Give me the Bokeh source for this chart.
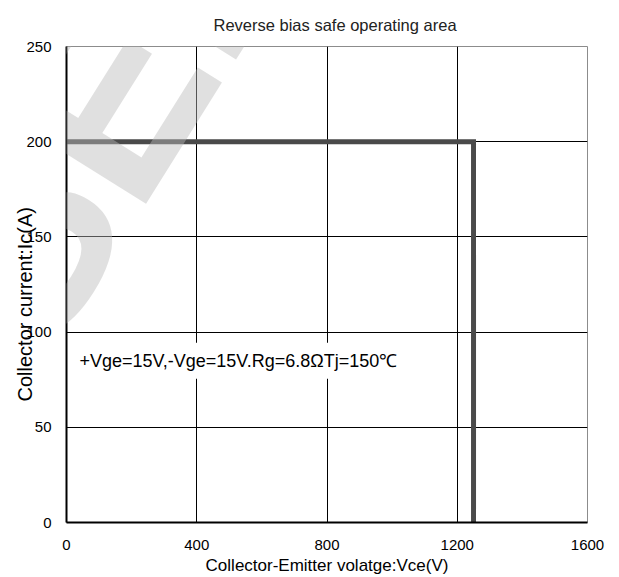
from bokeh.plotting import figure
from bokeh.models import Range1d, FixedTicker, Label, Title
from bokeh.embed import file_html
from bokeh.resources import INLINE

# Data
soa_vce = [0, 1250, 1250]
soa_ic = [200, 200, 0]
x_ticks = [0, 400, 800, 1200, 1600]
y_ticks = [0, 50, 100, 150, 200, 250]
title_text = "Reverse bias safe operating area"
x_label = "Collector-Emitter volatge:Vce(V)"
y_label = "Collector current:Ic(A)"
note_text = "+Vge=15V,-Vge=15V.Rg=6.8\u03a9Tj=150\u2103"

p = figure(width=619, height=577, output_backend="svg", toolbar_location=None,
           x_range=Range1d(0, 1600), y_range=Range1d(0, 250),
           min_border_left=66, min_border_right=32, min_border_top=46, min_border_bottom=54)
p.background_fill_color = "white"
p.border_fill_color = "white"
p.outline_line_color = "#8c8c8c"
p.outline_line_width = 1

p.title.text = title_text
p.title.align = "left"
p.title.offset = 147
p.title.standoff = 26
p.title.text_font = "Liberation Sans"
p.title.text_font_size = "16.5px"
p.title.text_font_style = "normal"
p.title.text_color = "#222222"

p.xaxis.ticker = FixedTicker(ticks=x_ticks)
p.yaxis.ticker = FixedTicker(ticks=y_ticks)
for ax in (p.xaxis[0], p.yaxis[0]):
    ax.axis_line_color = "black"
    ax.axis_line_width = 2
    ax.major_tick_line_color = None
    ax.minor_tick_line_color = None
    ax.major_label_text_font = "Liberation Sans"
    ax.major_label_text_font_size = "15px"
    ax.major_label_text_color = "black"
p.xaxis.major_label_standoff = 11
p.yaxis.major_label_standoff = 9
p.xaxis.axis_label = x_label
p.xaxis.axis_label_standoff = 3
p.xaxis.axis_label_text_font = "Liberation Sans"
p.xaxis.axis_label_text_font_size = "17px"
p.xaxis.axis_label_text_font_style = "normal"
p.xaxis.axis_label_text_color = "black"

p.add_layout(Title(text=y_label, align="left", offset=121, standoff=-25,
                   text_font="Liberation Sans", text_font_size="20px",
                   text_font_style="normal", text_color="black"), "left")

p.xgrid.ticker = FixedTicker(ticks=[400, 800, 1200])
p.ygrid.ticker = FixedTicker(ticks=[50, 100, 150, 200])
p.xgrid.grid_line_color = "black"
p.ygrid.grid_line_color = "black"
p.xgrid.grid_line_width = 1
p.ygrid.grid_line_width = 1

p.line(soa_vce, soa_ic, line_color="#4a4a4a", line_width=5, line_join="miter")

p.add_layout(Label(x=15, y=85, text=note_text, text_font="Liberation Sans",
                   text_font_size="18px", text_color="black", text_baseline="middle",
                   padding=8, background_fill_color="white"))

# watermark
p.add_layout(Label(x=80, y=69, text="SEMI", text_font="Liberation Sans",
                   text_font_style="bold", text_font_size="255px", text_color="#bbbbbb",
                   text_alpha=0.45, angle=58, angle_units="deg"))

open("out.html", "w").write(file_html(p, INLINE))
